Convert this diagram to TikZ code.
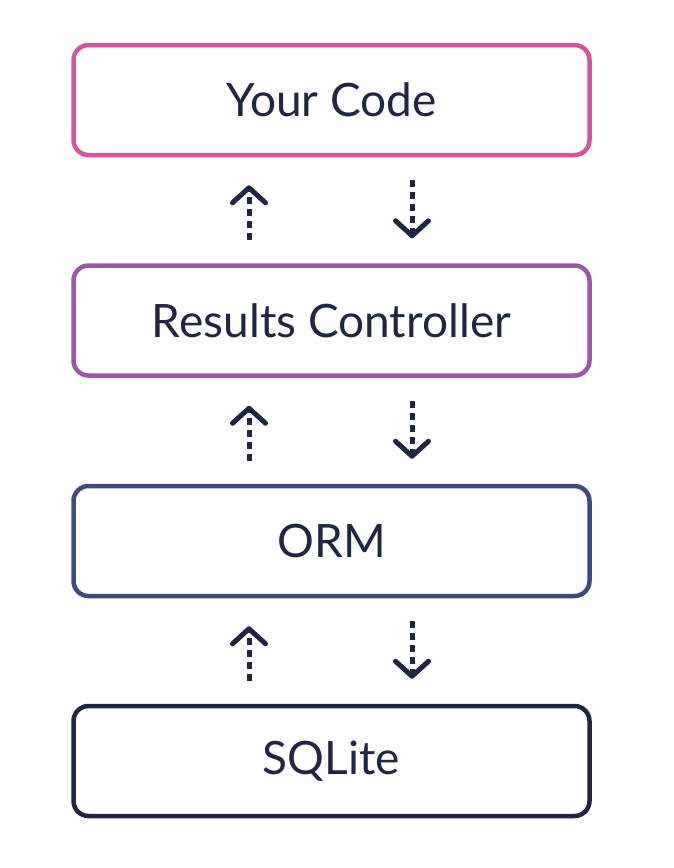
\documentclass[tikz,border=0pt]{standalone}
\usepackage{fontspec}
\setmainfont{Lato}
\usetikzlibrary{arrows.meta,calc}
\definecolor{cpink}{HTML}{D6549E}
\definecolor{cpurple}{HTML}{9C58A6}
\definecolor{cblue}{HTML}{3D4B7E}
\definecolor{cdark}{HTML}{1E2640}
\tikzset{
  layer/.style={draw=#1, line width=4.5pt, rounded corners=15pt, minimum width=516pt, minimum height=110pt, fill=white, text=cdark, font=\fontsize{46}{54}\selectfont},
  flow/.style={draw=cdark, line width=5pt, dash pattern=on 7pt off 5pt, -{Straight Barb[length=15pt,width=33pt,line width=5pt,round]}}
}
\begin{document}
\begin{tikzpicture}[x=1pt,y=1pt]
\useasboundingbox (0,0) rectangle (674,-868);
\node[layer=cpink] (code) at (331.5,-100) {Your Code};
\node[layer=cpurple] (ctrl) at (331.5,-320.5) {Results Controller};
\node[layer=cblue] (orm) at (331.5,-541) {ORM};
\node[layer=cdark] (sql) at (331.5,-761) {SQLite};
\foreach \a/\b in {code/ctrl, ctrl/orm, orm/sql}{
  \draw[flow] ($(\b.north)+(-82.5,23)$) -- ($(\a.south)+(-82.5,-28)$);
  \draw[flow] ($(\a.south)+(80.5,-23)$) -- ($(\b.north)+(80.5,25)$);
}
\end{tikzpicture}
\end{document}
